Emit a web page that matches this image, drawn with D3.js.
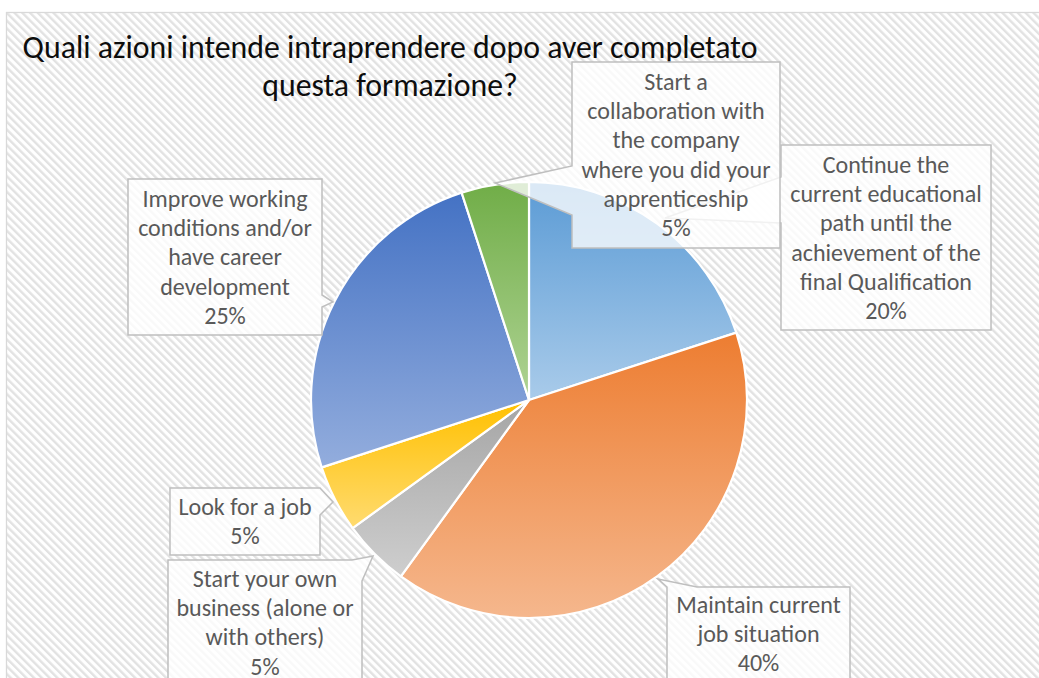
<!DOCTYPE html>
<html>
<head>
<meta charset="utf-8">
<script src="https://cdn.jsdelivr.net/npm/d3@7/dist/d3.min.js"></script>
<style>
  html, body { margin: 0; padding: 0; background: #ffffff; }
  svg { display: block; }
</style>
</head>
<body>
<svg id="chart" width="1039" height="678"></svg>
<script>
// ---------- DATA ----------
const titleLines = ["Quali azioni intende intraprendere dopo aver completato", "questa formazione?"];
const categories = [
  "Continue the current educational path until the achievement of the final Qualification",
  "Maintain current job situation",
  "Start your own business (alone or with others)",
  "Look for a job",
  "Improve working conditions and/or have career development",
  "Start a collaboration with the company where you did your apprenticeship"
];
const values = [20, 40, 5, 5, 25, 5];
const labelLines = [
  ["Continue the", "current educational", "path until the", "achievement of the", "final Qualification"],
  ["Maintain current", "job situation"],
  ["Start your own", "business (alone or", "with others)"],
  ["Look for a job"],
  ["Improve working", "conditions and/or", "have career", "development"],
  ["Start a", "collaboration with", "the company", "where you did your", "apprenticeship"]
];

// ---------- STYLE / LAYOUT ----------
const colorTop    = ["#5B9BD5", "#ED7D31", "#A5A5A5", "#FFC000", "#4472C4", "#70AD47"];
const colorBottom = ["#A9CBEA", "#F5B78D", "#CECECE", "#FFDB70", "#93ADDD", "#AFD394"];
const center = [529, 400], radius = 218;
const lineH = 29.2;
// callout polygons and first text baseline / centre (layout only)
const callouts = [
  {pts: [[781,145],[991,145],[991,330],[781,330],[781,223],[665,218],[781,177]], cx: 886, y0: 173},
  {pts: [[667,700],[667,587],[658,579],[697,587],[850,587],[850,700]], cx: 758.5, y0: 613},
  {pts: [[168,560],[352,560],[373,556],[362,581],[362,700],[168,700]], cx: 265, y0: 587},
  {pts: [[170,488],[320,488],[333,502],[320,515],[320,555],[170,555]], cx: 245, y0: 515},
  {pts: [[128,179],[322,179],[322,295],[333,302],[322,307],[322,335],[128,335]], cx: 225, y0: 207},
  {pts: [[572,62],[780,62],[780,248],[572,248],[572,215],[495,183],[572,166]], cx: 676, y0: 90}
];

const svg = d3.select("#chart");
const defs = svg.append("defs");
const FONT = "Carlito, Calibri, Lato, 'Open Sans', sans-serif";

// hatch background
const pat = defs.append("pattern").attr("id", "hatch")
  .attr("patternUnits", "userSpaceOnUse").attr("width", 5.5).attr("height", 5.5)
  .attr("patternTransform", "rotate(-45)");
pat.append("rect").attr("width", 5.5).attr("height", 5.5).attr("fill", "#ffffff");
pat.append("rect").attr("width", 2.4).attr("height", 5.5).attr("fill", "#e2e2e2");

svg.append("rect").attr("x", 6.5).attr("y", 12.5).attr("width", 1040).attr("height", 700)
  .attr("fill", "url(#hatch)").attr("stroke", "#d9d9d9").attr("stroke-width", 1.3);

// title
const title = svg.append("g").attr("font-family", FONT).attr("fill", "#0d0d0d");
const tl = title.selectAll("text").data(titleLines).join("text")
  .attr("x", 390).attr("y", (d, i) => 58 + i * 37.5)
  .attr("text-anchor", "middle").attr("font-size", 29).text(d => d);
// fit line 1 to reference width
{
  const w = tl.nodes()[0].getComputedTextLength();
  const fs = 29 * 735 / w;
  tl.attr("font-size", fs);
}

// gradients
colorTop.forEach((c, i) => {
  const g = defs.append("linearGradient").attr("id", "grad" + i)
    .attr("x1", 0).attr("y1", 0).attr("x2", 0).attr("y2", 1);
  g.append("stop").attr("offset", "0%").attr("stop-color", c);
  g.append("stop").attr("offset", "100%").attr("stop-color", colorBottom[i]);
});

// pie
const pie = d3.pie().sort(null).value(d => d);
const arcs = pie(values);
const arc = d3.arc().innerRadius(0).outerRadius(radius);
svg.append("g").attr("transform", `translate(${center[0]},${center[1]})`)
  .selectAll("path").data(arcs).join("path")
  .attr("d", arc)
  .attr("fill", (d, i) => `url(#grad${i})`)
  .attr("stroke", "#ffffff").attr("stroke-width", 2.2).attr("stroke-linejoin", "round");

// callouts
const total = d3.sum(values);
const pct = d3.format(".0%");
const line = d3.line();
const lab = svg.append("g").attr("font-family", FONT);
const probe = lab.append("text").attr("font-size", 20).text("Improve working");
const lfs = 20 * 165 / probe.node().getComputedTextLength();
probe.remove();

callouts.forEach((c, i) => {
  const g = lab.append("g");
  g.append("path").attr("d", line(c.pts) + "Z")
    .attr("fill", "#ffffff").attr("fill-opacity", 0.78)
    .attr("stroke", "#bfbfbf").attr("stroke-width", 1.5).attr("stroke-linejoin", "miter");
  const lines = labelLines[i].concat([pct(values[i] / total)]);
  g.selectAll("text").data(lines).join("text")
    .attr("x", c.cx).attr("y", (d, j) => c.y0 + j * lineH)
    .attr("text-anchor", "middle").attr("font-size", lfs).attr("fill", "#595959")
    .text(d => d);
});
</script>
</body>
</html>
